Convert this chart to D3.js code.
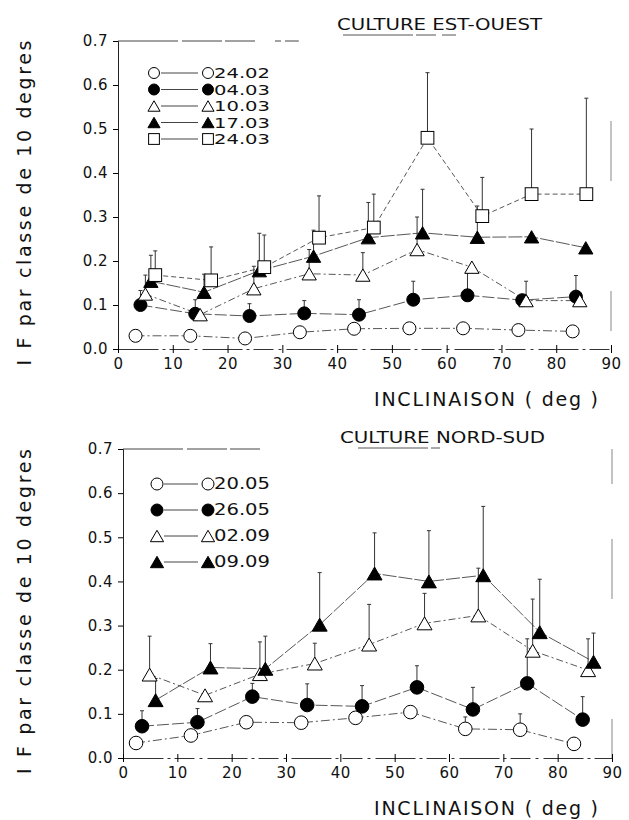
<!DOCTYPE html>
<html>
<head>
<meta charset="UTF-8">
<title></title>
<script src="https://cdn.jsdelivr.net/npm/d3@7"></script>
<style>
  body { margin: 0; background: #fff; }
  svg text { font-family: "DejaVu Sans", "Liberation Sans", sans-serif; fill: #111; }
</style>
</head>
<body>
<div id="chart"></div>
<script>
// ---- donnees : culture est-ouest ----
var eoDates = ["24.02", "04.03", "10.03", "17.03", "24.03"];
var eoX_2402 = [3.2, 13.2, 23.2, 33.2, 43.1, 53.2, 63.0, 73.1, 83.0];
var eoY_2402 = [0.030, 0.030, 0.024, 0.038, 0.046, 0.047, 0.047, 0.043, 0.040];
var eoE_2402 = [null, null, null, null, null, null, null, null, null];
var eoX_0403 = [4.1, 14.1, 24.0, 34.0, 44.0, 53.9, 63.8, 73.8, 83.6];
var eoY_0403 = [0.100, 0.080, 0.075, 0.081, 0.078, 0.112, 0.122, 0.111, 0.119];
var eoE_0403 = [0.133, 0.112, 0.103, 0.110, 0.112, 0.154, 0.173, null, 0.167];
var eoX_1003 = [5.0, 15.0, 24.8, 34.9, 44.7, 54.6, 64.6, 74.5, 84.3];
var eoY_1003 = [0.125, 0.078, 0.137, 0.171, 0.168, 0.226, 0.186, 0.110, 0.110];
var eoE_1003 = [0.168, null, 0.188, 0.226, 0.219, 0.300, null, 0.154, null];
var eoX_1703 = [6.0, 15.7, 25.8, 35.7, 45.7, 55.6, 65.6, 75.5, 85.4];
var eoY_1703 = [0.154, 0.129, 0.178, 0.211, 0.253, 0.264, 0.254, 0.255, 0.230];
var eoE_1703 = [0.213, 0.170, 0.263, 0.270, 0.333, 0.363, 0.325, null, null];
var eoX_2403 = [6.8, 17.0, 26.7, 36.7, 46.7, 56.5, 66.5, 75.5, 85.5];
var eoY_2403 = [0.168, 0.156, 0.186, 0.253, 0.276, 0.480, 0.302, 0.352, 0.352];
var eoE_2403 = [0.223, 0.232, 0.259, 0.348, 0.352, 0.628, 0.390, 0.500, 0.570];

// ---- donnees : culture nord-sud ----
var nsDates = ["20.05", "26.05", "02.09", "09.09"];
var nsX_2005 = [2.4, 12.5, 22.7, 32.8, 42.8, 52.9, 63.0, 73.1, 83.0];
var nsY_2005 = [0.034, 0.051, 0.081, 0.080, 0.091, 0.104, 0.066, 0.064, 0.032];
var nsE_2005 = [null, null, null, null, null, null, 0.093, 0.100, null];
var nsX_2605 = [3.5, 13.7, 23.8, 33.9, 44.0, 54.1, 64.4, 74.4, 84.6];
var nsY_2605 = [0.072, 0.081, 0.139, 0.120, 0.117, 0.160, 0.110, 0.169, 0.087];
var nsE_2605 = [0.107, 0.112, 0.169, 0.168, 0.164, 0.209, 0.160, 0.270, 0.139];
var nsX_0209 = [4.9, 15.1, 25.2, 35.3, 45.3, 55.5, 65.4, 75.4, 85.6];
var nsY_0209 = [0.189, 0.142, 0.190, 0.214, 0.257, 0.305, 0.323, 0.243, 0.199];
var nsE_0209 = [0.276, null, 0.263, 0.260, 0.348, 0.373, 0.430, 0.360, 0.270];
var nsX_0909 = [6.0, 16.1, 26.2, 36.2, 46.3, 56.3, 66.3, 76.7, 86.6];
var nsY_0909 = [0.131, 0.205, 0.202, 0.302, 0.418, 0.400, 0.414, 0.285, 0.218];
var nsE_0909 = [0.180, 0.259, 0.276, 0.420, 0.510, 0.515, 0.570, 0.405, 0.283];

// ticks
var xTicks = [0, 10, 20, 30, 40, 50, 60, 70, 80, 90];
var yTicks = [0.0, 0.1, 0.2, 0.3, 0.4, 0.5, 0.6, 0.7];

var symbols = ["openCircle", "circle", "openTriangle", "triangle", "openSquare"];

function makeSeries(dates, xs, ys, es, dashes) {
  return dates.map(function(d, i) {
    return {
      label: d, sym: symbols[i], dash: dashes[i],
      points: xs[i].map(function(x, j) { return { x: x, y: ys[i][j], e: es[i][j] }; })
    };
  });
}

var eoSeries = makeSeries(eoDates,
  [eoX_2402, eoX_0403, eoX_1003, eoX_1703, eoX_2403],
  [eoY_2402, eoY_0403, eoY_1003, eoY_1703, eoY_2403],
  [eoE_2402, eoE_0403, eoE_1003, eoE_1703, eoE_2403],
  ["9,3,2,3", "12,3", "7,3,2,3", "14,2", "5,3"]);
var nsSeries = makeSeries(nsDates,
  [nsX_2005, nsX_2605, nsX_0209, nsX_0909],
  [nsY_2005, nsY_2605, nsY_0209, nsY_0909],
  [nsE_2005, nsE_2605, nsE_0209, nsE_0909],
  ["9,3,2,3", "12,3", "7,3,2,3", "14,2"]);

var width = 629, height = 820;
var svg = d3.select("#chart").append("svg")
  .attr("width", width).attr("height", height);

// dessine un symbole centre en (cx, cy)
function drawSymbol(g, type, cx, cy, r) {
  var fill = type.indexOf("open") === 0 ? "#fff" : "#000";
  if (type.indexOf("ircle") > 0) {
    g.append("circle").attr("cx", cx).attr("cy", cy).attr("r", r)
      .attr("fill", fill).attr("stroke", "#000").attr("stroke-width", 1);
  } else if (type.indexOf("riangle") > 0) {
    var w = r * 1.1, h = r * 0.95;
    g.append("path")
      .attr("d", "M" + cx + "," + (cy - h) + "L" + (cx + w) + "," + (cy + h) + "L" + (cx - w) + "," + (cy + h) + "Z")
      .attr("fill", fill).attr("stroke", "#000").attr("stroke-width", 1);
  } else {
    var s = r * 0.98;
    g.append("rect").attr("x", cx - s).attr("y", cy - s).attr("width", 2 * s).attr("height", 2 * s)
      .attr("fill", fill).attr("stroke", "#000").attr("stroke-width", 1);
  }
}

function drawPanel(p) {
  var x = d3.scaleLinear().domain([0, 90]).range([p.left, p.right]);
  var y = d3.scaleLinear().domain([0, 0.7]).range([p.bottom, p.top]);
  var g = svg.append("g");

  // cadre (haut et droite, estompe comme sur le scan)
  g.append("line").attr("x1", x(0)).attr("x2", x(p.topLineEnd)).attr("y1", y(0.7)).attr("y2", y(0.7))
    .attr("stroke", "#444").attr("stroke-width", 1).attr("stroke-dasharray", "60,4,40,3,30,20,6,4");
  g.append("line").attr("x1", x(90)).attr("x2", x(90)).attr("y1", y(0.7)).attr("y2", y(0))
    .attr("stroke", "#888").attr("stroke-width", 1).attr("stroke-dasharray", p.rightDash);

  // axes
  var yAxis = d3.axisLeft(y).tickValues(yTicks).tickFormat(d3.format(".1f"))
    .tickSize(5).tickPadding(5);
  var gy = g.append("g").attr("transform", "translate(" + x(0) + ",0)").call(yAxis);
  gy.select(".domain").attr("stroke", "#222");
  gy.selectAll("text").style("font-size", "15px").attr("letter-spacing", "0.5px");

  var xAxis = d3.axisBottom(x).tickValues(xTicks).tickFormat(d3.format("d"))
    .tickSize(5).tickSizeOuter(0).tickPadding(4);
  var gx = g.append("g").attr("transform", "translate(0," + y(0) + ")").call(xAxis);
  gx.select(".domain").attr("stroke", "#333").attr("stroke-dasharray", "40,4,3,4,20,5,3,5");
  gx.selectAll(".tick line").attr("y1", -4).attr("y2", 4);
  gx.selectAll("text").style("font-size", "15px").attr("letter-spacing", "0.5px");

  // titre
  g.append("text").attr("x", p.titleX).attr("y", p.titleY)
    .attr("textLength", 205).attr("lengthAdjust", "spacingAndGlyphs")
    .style("font-size", "16px").text(p.title);
  g.append("line").attr("x1", p.ulX1).attr("x2", p.ulX2).attr("y1", p.titleY + 5).attr("y2", p.titleY + 5)
    .attr("stroke", "#555").attr("stroke-width", 1).attr("stroke-dasharray", "70,3,20,6,14,4");

  // titre axe y
  g.append("text")
    .attr("transform", "translate(" + 31 + "," + ((y(0) + y(0.7)) / 2 + 8) + ") rotate(-90)")
    .attr("text-anchor", "middle").attr("textLength", 325).attr("lengthAdjust", "spacing")
    .style("font-size", "19px").text("I F par classe de 10 degres");

  // titre axe x
  g.append("text").attr("x", 374).attr("y", y(0) + 57)
    .attr("textLength", 224).attr("lengthAdjust", "spacing")
    .style("font-size", "19px").text("INCLINAISON ( deg )");

  var line = d3.line().x(function(d) { return x(d.x); }).y(function(d) { return y(d.y); });

  // lignes
  p.series.forEach(function(s) {
    g.append("path").datum(s.points).attr("d", line)
      .attr("fill", "none").attr("stroke", "#444").attr("stroke-width", 0.9)
      .attr("stroke-dasharray", s.dash);
  });

  // barres d'erreur
  p.series.forEach(function(s) {
    s.points.forEach(function(d) {
      if (d.e == null) return;
      g.append("line").attr("x1", x(d.x)).attr("x2", x(d.x)).attr("y1", y(d.y)).attr("y2", y(d.e))
        .attr("stroke", "#333").attr("stroke-width", 1);
      g.append("line").attr("x1", x(d.x) - 2).attr("x2", x(d.x) + 2).attr("y1", y(d.e)).attr("y2", y(d.e))
        .attr("stroke", "#333").attr("stroke-width", 1);
    });
  });

  // symboles
  p.series.forEach(function(s) {
    s.points.forEach(function(d) {
      drawSymbol(g, s.sym, x(d.x), y(d.y), p.r);
    });
  });

  // legende
  p.series.forEach(function(s, i) {
    var ly = p.legY + i * p.legStep;
    g.append("line").attr("x1", p.legX1 + 7).attr("x2", p.legX2 - 10).attr("y1", ly).attr("y2", ly)
      .attr("stroke", "#444").attr("stroke-width", 1);
    drawSymbol(g, s.sym, p.legX1, ly, p.legR);
    drawSymbol(g, s.sym, p.legX2, ly, p.legR);
    g.append("text").attr("x", p.legX2 + 6).attr("y", ly + 5)
      .attr("textLength", 56).attr("lengthAdjust", "spacingAndGlyphs")
      .style("font-size", p.legFont + "px").text(s.label);
  });
}

drawPanel({
  series: eoSeries, title: "CULTURE EST-OUEST",
  left: 118, right: 611, top: 41, bottom: 349,
  topLineEnd: 33, rightDash: "0,80,60,60,0,50,40,400",
  titleX: 337, titleY: 30, ulX1: 343, ulX2: 458,
  legX1: 154, legX2: 208, legY: 73, legStep: 16.5, legR: 5.5, legFont: 14, r: 6.5
});

drawPanel({
  series: nsSeries, title: "CULTURE NORD-SUD",
  left: 123, right: 612, top: 449, bottom: 758,
  topLineEnd: 27, rightDash: "35,55,60,80,0,40,50,400",
  titleX: 340, titleY: 443, ulX1: 358, ulX2: 440,
  legX1: 157, legX2: 208, legY: 484, legStep: 26, legR: 6, legFont: 16, r: 6.8
});
</script>
</body>
</html>
